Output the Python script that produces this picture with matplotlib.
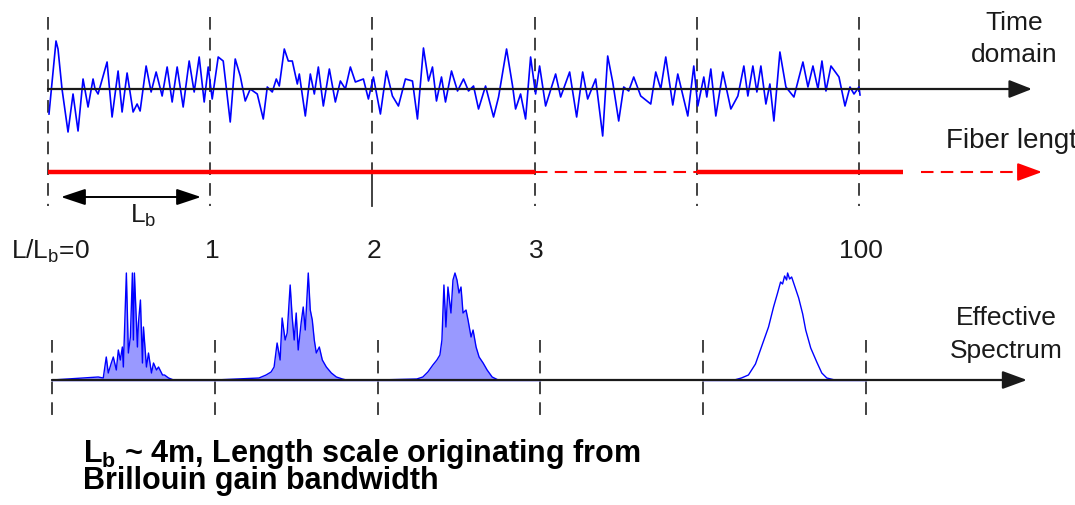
import matplotlib
matplotlib.use('Agg')
import matplotlib.pyplot as plt

plt.rcParams['font.family'] = ['Liberation Sans', 'DejaVu Sans']

# ---- data ----
LB_SAMPLES = 162  # samples per L_b segment
seg_index = [0, 1, 2, 3, 4, 5]
seg_labels = ['L/L$_\\mathregular{b}$=0', '1', '2', '3', '', '100']

# time domain signal: sample index, amplitude
sig_t = [1, 8, 10, 14, 20, 25, 30, 35, 40, 45, 47, 50, 59, 64, 70, 74, 79, 85, 89, 92,
         98, 103, 108, 114, 119, 124, 129, 135, 141, 146, 151, 156, 160, 164, 170, 175,
         182, 187, 192, 197, 202, 209, 215, 219, 224, 228, 231, 236, 240, 244, 249, 251,
         257, 262, 266, 270, 275, 281, 287, 292, 297, 302, 307, 315, 320, 325, 332, 338,
         344, 350, 357, 364, 369, 375, 380, 384, 388, 393, 397, 403, 409, 415, 420, 425,
         430, 437, 445, 450, 458, 464, 467, 472, 477, 482, 487, 491, 497, 507, 512, 521,
         528, 534, 539, 547, 554, 559, 564, 570, 575, 580, 585, 592, 602, 607, 612, 617,
         624, 629, 639, 645, 649, 655, 658, 662, 667, 674, 682, 689, 695, 699, 704, 708,
         712, 717, 721, 725, 731, 737, 745, 754, 759, 764, 769, 773, 777, 782, 790, 796,
         801, 805, 810, 811]
sig_a = [-25, 48, 40, 0, -43, -5, -42, 10, -18, 10, 0, -5, 27, -28, 18, -23, 16, -23, -15, -22,
         23, -3, 17, -7, 22, -13, 22, -18, 28, -3, 32, -13, 22, -10, 32, 28,
         -33, 30, 13, -12, 0, -5, -30, 2, -3, 10, 3, 40, 28, 28, 5, 15,
         -27, 15, -5, 22, -17, 20, -13, 8, 0, 22, 7, 10, -10, 12, -25, 18,
         -7, -17, 10, 8, -30, 41, 8, 22, -12, 12, -13, 18, -2, 10, -2, 3,
         -20, 3, -28, -8, 40, 3, -20, -5, -30, 32, -5, 23, -17, 15, -8, 17,
         -28, 17, -10, 10, -47, 33, 7, -32, 2, -2, 12, -7, -15, 17, 0, 32,
         -16, 15, -27, 23, -17, 12, -8, 20, -27, 17, -20, -7, 23, -7, 23, -3,
         23, -15, 5, -32, 37, 2, -8, 27, 2, 23, 0, 28, -2, 23, 12, -17,
         2, -5, 2, -6]

# effective spectra: bin offset within segment, amplitude
spec1_f = [0, 46, 51, 54, 56, 59, 61, 64, 66, 68, 70, 71, 74, 76, 78, 80, 81, 82, 85, 86,
           88, 90, 91, 94, 96, 99, 101, 104, 106, 110, 112, 116, 121, 164]
spec1_a = [0, 3, 2, 23, 7, 17, 23, 10, 30, 20, 33, 13, 107, 27, 43, 107, 40, 107, 33, 57,
           80, 17, 53, 13, 27, 7, 17, 10, 13, 5, 5, 2, 0, 0]
spec2_f = [0, 44, 51, 56, 59, 62, 65, 67, 70, 72, 75, 77, 79, 81, 83, 86, 88, 90, 93, 95,
           97, 99, 101, 104, 107, 111, 116, 121, 127, 131, 164]
spec2_a = [0, 2, 5, 8, 13, 37, 20, 62, 40, 47, 95, 63, 40, 67, 30, 58, 73, 50, 107, 70,
           60, 40, 27, 33, 20, 13, 7, 3, 1, 0, 0]
spec3_f = [0, 39, 45, 50, 55, 59, 62, 64, 66, 68, 70, 73, 75, 77, 79, 81, 83, 85, 88, 90,
           93, 95, 98, 101, 105, 109, 114, 120, 164]
spec3_a = [0, 1, 3, 8, 15, 20, 25, 40, 95, 53, 93, 67, 100, 107, 100, 87, 93, 67, 70, 60,
           43, 50, 33, 23, 17, 10, 3, 0, 0]
spec4_f = [0, 31, 38, 45, 52, 59, 65, 70, 74, 77, 79, 81, 83, 84, 86, 88, 91, 95, 99, 102,
           107, 113, 118, 123, 131, 164]
spec4_a = [0, 0, 2, 5, 16, 36, 53, 73, 87, 98, 96, 104, 100, 107, 101, 103, 94, 82, 66, 50,
           32, 18, 7, 2, 0, 0]
spectra = [(0, spec1_f, spec1_a, True), (1, spec2_f, spec2_a, True),
           (2, spec3_f, spec3_a, True), (4, spec4_f, spec4_a, False)]

# ---- layout ----
X0_TOP, STEP_TOP = 48, 162.2
X0_BOT, STEP_BOT = 52, 162.8
Y_TIME, Y_FIBER, Y_LAB, Y_SPEC = 90, 173, 251, 381
BLUE = '#0000ff'
RED = '#ff0000'
DARK = '#1a1a1a'
GRAY = '#333333'
FS = 19

fig = plt.figure(figsize=(10.75, 5.06), dpi=100)
ax = fig.add_axes([0, 0, 1, 1])
ax.set_xlim(0, 1075)
ax.set_ylim(506, 0)
ax.axis('off')

px_top = [X0_TOP + k * STEP_TOP for k in seg_index]
px_bot = [X0_BOT + k * STEP_BOT for k in seg_index]

# vertical dashed markers (top)
for k, x in zip(seg_index, px_top):
    if k == 2:
        ax.plot([x, x], [18, Y_FIBER], color=GRAY, lw=1.3, dashes=(7, 4.5))
        ax.plot([x, x], [Y_FIBER, 207], color=GRAY, lw=1.3)
    else:
        ax.plot([x, x], [18, 207], color=GRAY, lw=1.3, dashes=(7, 4.5))

# time axis + signal
ax.annotate('', xy=(1032, Y_TIME), xytext=(X0_TOP, Y_TIME),
            arrowprops=dict(arrowstyle='-|>,head_length=14,head_width=5.5', mutation_scale=1,
                            color=DARK, lw=1.6, shrinkA=0, shrinkB=0))
ax.plot([X0_TOP + t * STEP_TOP / LB_SAMPLES for t in sig_t], [Y_TIME - a for a in sig_a],
        color=BLUE, lw=1.2)

# fiber length line
ax.plot([px_top[0], px_top[3]], [Y_FIBER, Y_FIBER], color=RED, lw=3.2, solid_capstyle='butt')
ax.plot([px_top[3], px_top[4]], [Y_FIBER, Y_FIBER], color=RED, lw=1.5, dashes=(6, 3.5))
ax.plot([px_top[4], 903], [Y_FIBER, Y_FIBER], color=RED, lw=3.2, solid_capstyle='butt')
ax.plot([921, 1024], [Y_FIBER, Y_FIBER], color=RED, lw=1.5, dashes=(6, 3.5))
ax.annotate('', xy=(1042, Y_FIBER), xytext=(1020, Y_FIBER),
            arrowprops=dict(arrowstyle='-|>,head_length=15,head_width=5.5', mutation_scale=1,
                            color=RED, lw=1.5, shrinkA=0, shrinkB=0))

# L_b double arrow
ax.annotate('', xy=(61, 198), xytext=(201, 198),
            arrowprops=dict(arrowstyle='<|-|>,head_length=15,head_width=5', mutation_scale=1,
                            color='k', lw=1.4, shrinkA=0, shrinkB=0))
ax.text(143, 216, 'L$_\\mathregular{b}$', fontsize=FS, color=DARK, ha='center', va='center')

# segment labels
for k, x, lab in zip(seg_index, px_top, seg_labels):
    if k == 0:
        ax.text(11, Y_LAB, lab, fontsize=FS, color=DARK, ha='left', va='center')
    elif lab:
        ax.text(x + 2, Y_LAB, lab, fontsize=FS, color=DARK, ha='center', va='center')

ax.text(1014, 23, 'Time', fontsize=FS, color=DARK, ha='center', va='center')
ax.text(1014, 55, 'domain', fontsize=FS, color=DARK, ha='center', va='center')
ax.text(946, 141, 'Fiber length', fontsize=20, color=DARK, ha='left', va='center')

# spectrum axis
for x in px_bot:
    ax.plot([x, x], [341, 424], color=GRAY, lw=1.3, dashes=(7, 4.5))
ax.annotate('', xy=(1027, Y_SPEC), xytext=(X0_BOT, Y_SPEC),
            arrowprops=dict(arrowstyle='-|>,head_length=15,head_width=5.5', mutation_scale=1,
                            color=DARK, lw=1.6, shrinkA=0, shrinkB=0))
for k, f, a, noisy in spectra:
    xs = [px_bot[k] + v * STEP_BOT / LB_SAMPLES for v in f]
    ys = [Y_SPEC - v for v in a]
    if noisy:
        ax.fill_between(xs, ys, Y_SPEC, color=BLUE, alpha=0.4, lw=0)
    ax.plot(xs, ys, color=BLUE, lw=1.0)
ax.plot([px_bot[0], px_bot[3]], [Y_SPEC, Y_SPEC], color=BLUE, lw=1.0)
ax.plot([px_bot[4], px_bot[5]], [Y_SPEC, Y_SPEC], color=BLUE, lw=1.0)

ax.text(1006, 318, 'Effective', fontsize=FS, color=DARK, ha='center', va='center')
ax.text(1006, 351, 'Spectrum', fontsize=FS, color=DARK, ha='center', va='center')

# note
ax.text(83, 437, 'L$_\\mathregular{b}$ ~ 4m, Length scale originating from\n'
        'Brillouin gain bandwidth',
        fontsize=22, fontweight='bold', color='k', ha='left', va='top', linespacing=0.8)

fig.savefig('out.png', dpi=100)
